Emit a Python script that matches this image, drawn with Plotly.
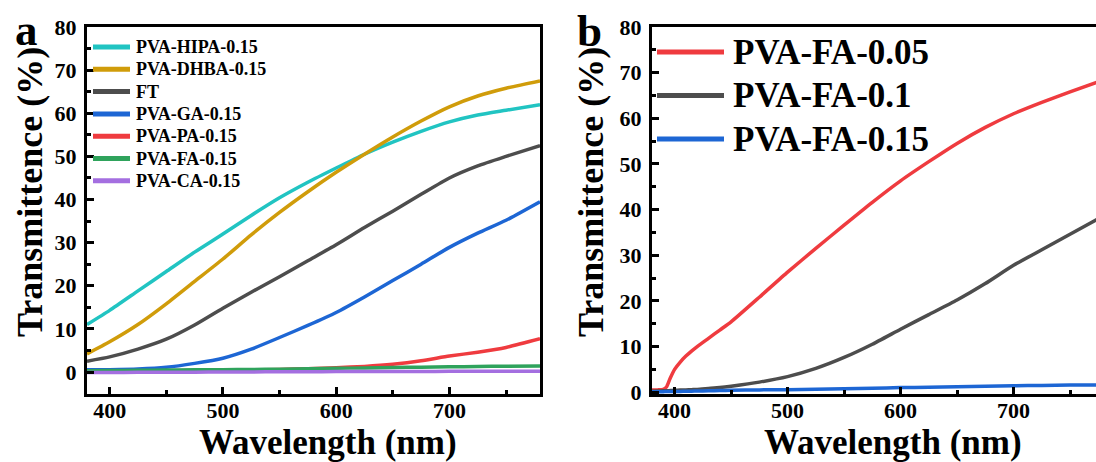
import plotly.graph_objects as go

# ---------------- data ----------------
wl_a = [380, 400, 425, 450, 475, 500, 525, 550, 575, 600, 625, 650, 675, 700, 725, 750, 780]
hipa = [11.0, 14.3, 18.8, 23.3, 27.8, 32.0, 36.3, 40.4, 44.0, 47.3, 50.5, 53.3, 55.8, 58.0, 59.6, 60.7, 62.0]
dhba = [4.2, 7.0, 11.0, 15.8, 21.0, 26.2, 31.8, 37.0, 41.8, 46.3, 50.5, 54.5, 58.2, 61.5, 64.0, 65.8, 67.5]
ft   = [2.5, 3.5, 5.3, 7.6, 10.9, 14.8, 18.5, 22.1, 25.8, 29.5, 33.5, 37.3, 41.2, 45.0, 47.8, 50.0, 52.5]
ga   = [0.5, 0.55, 0.7, 1.1, 2.0, 3.2, 5.3, 8.0, 10.8, 13.8, 17.4, 21.2, 25.0, 28.9, 32.2, 35.2, 39.5]
pa   = [0.2, 0.25, 0.28, 0.3, 0.35, 0.4, 0.5, 0.6, 0.75, 1.0, 1.3, 1.8, 2.6, 3.7, 4.6, 5.7, 7.7]
fa   = [0.3, 0.35, 0.4, 0.45, 0.5, 0.55, 0.6, 0.65, 0.75, 0.85, 0.95, 1.05, 1.12, 1.2, 1.28, 1.34, 1.4]
ca   = [-0.1, -0.1, -0.08, -0.05, -0.03, 0.0, 0.02, 0.05, 0.07, 0.1, 0.11, 0.12, 0.14, 0.15, 0.17, 0.19, 0.2]

wl_b  = [380, 385, 390, 393, 396, 400, 405, 410, 415, 420, 430, 440, 450, 475, 500,
         525, 550, 575, 600, 625, 650, 675, 700, 725, 750, 775]
fa005 = [0.5, 0.5, 0.6, 1.2, 3.0, 5.0, 6.6, 7.9, 9.0, 10.0, 11.8, 13.6, 15.4, 20.8, 26.3,
         31.5, 36.6, 41.6, 46.3, 50.5, 54.5, 58.0, 61.0, 63.5, 65.8, 68.0]
fa01  = [0.2, 0.25, 0.3, 0.3, 0.35, 0.4, 0.45, 0.5, 0.55, 0.6, 0.8, 1.0, 1.3, 2.2, 3.4,
         5.2, 7.6, 10.5, 13.8, 17.0, 20.2, 23.8, 27.8, 31.2, 34.6, 38.0]
fa015 = [0.1, 0.1, 0.12, 0.13, 0.14, 0.15, 0.17, 0.2, 0.22, 0.25, 0.3, 0.35, 0.4, 0.5, 0.55,
         0.65, 0.75, 0.88, 1.0, 1.1, 1.2, 1.3, 1.4, 1.48, 1.55, 1.6]

names_a  = ["PVA-HIPA-0.15", "PVA-DHBA-0.15", "FT", "PVA-GA-0.15", "PVA-PA-0.15", "PVA-FA-0.15", "PVA-CA-0.15"]
values_a = [hipa, dhba, ft, ga, pa, fa, ca]
colors_a = ["#21C4C2", "#D09C0A", "#4D4D4D", "#1D66D4", "#EF3B3F", "#2FA35C", "#A46FE0"]

names_b  = ["PVA-FA-0.05", "PVA-FA-0.1", "PVA-FA-0.15"]
values_b = [fa005, fa01, fa015]
colors_b = ["#EF3B3F", "#4D4D4D", "#1D66D4"]

x_ticks = [400, 500, 600, 700]
x_minor = [450, 550, 650, 750]
y_ticks = [0, 10, 20, 30, 40, 50, 60, 70, 80]

# ---------------- layout constants ----------------
FONT = "Liberation Serif"
W, H = 1096, 462
MT, MB = 27, 68
PH = H - MT - MB


def py(p):
    """pixel row -> paper y"""
    return 1 - (p - MT) / PH


def px(p):
    return p / W


fig = go.Figure()
for name, ys, col in zip(names_a, values_a, colors_a):
    fig.add_trace(go.Scatter(x=wl_a, y=ys, mode="lines", name=name, showlegend=False,
                             line=dict(color=col, width=3.5, shape="spline", smoothing=0.6),
                             xaxis="x", yaxis="y"))
for name, ys, col in zip(names_b, values_b, colors_b):
    fig.add_trace(go.Scatter(x=wl_b, y=ys, mode="lines", name=name, showlegend=False,
                             line=dict(color=col, width=3.5, shape="spline", smoothing=0.5),
                             xaxis="x2", yaxis="y2"))

tickfont = dict(family=FONT, size=22, color="black", weight="bold")
titlefont = dict(family=FONT, size=35, color="black", weight="bold")

common_x = dict(showgrid=False, zeroline=False, showline=True, linecolor="black", linewidth=3,
                ticks="inside", ticklen=7, tickwidth=3, tickcolor="black",
                tickvals=x_ticks, tickfont=tickfont, ticklabelstandoff=-5,
                minor=dict(tickvals=x_minor, ticks="inside", ticklen=4,
                           tickwidth=3, tickcolor="black"))
common_y = dict(showgrid=False, zeroline=False, showline=True, linecolor="black", linewidth=3,
                ticks="inside", ticklen=7, tickwidth=3, tickcolor="black",
                tickvals=y_ticks, tickfont=tickfont, ticklabelstandoff=3,
                minor=dict(dtick=5, ticks="inside", ticklen=4, tickwidth=3, tickcolor="black"))

fig.update_layout(
    width=W, height=H,
    margin=dict(l=0, r=0, t=MT, b=MB, autoexpand=False),
    paper_bgcolor="white", plot_bgcolor="white",
    showlegend=False,
    xaxis=dict(domain=[px(87), px(540)], range=[380, 780], anchor="y", mirror=True, **common_x),
    yaxis=dict(domain=[0, 1], range=[-5.1, 80], anchor="x", mirror=True, **common_y),
    xaxis2=dict(domain=[px(652), 1.0], range=[380, 773], anchor="y2", mirror=True, **common_x),
    yaxis2=dict(domain=[0, 1], range=[-0.4, 80], anchor="x2", mirror=False, **common_y),
)

# axis titles
for xc in (328, 893):
    fig.add_annotation(text="Wavelength (nm)", x=px(xc), y=py(442), xref="paper", yref="paper",
                       xanchor="center", yanchor="middle", showarrow=False, font=titlefont)
for xc in (30, 591):
    fig.add_annotation(text="Transmittence (%)", x=px(xc), y=py(192), xref="paper", yref="paper",
                       xanchor="center", yanchor="middle", textangle=-90, showarrow=False,
                       font=dict(family=FONT, size=36, color="black", weight="bold"))

# panel letters
fig.add_annotation(text="a", x=px(26), y=py(30), xref="paper", yref="paper",
                   xanchor="center", yanchor="middle", showarrow=False,
                   font=dict(family=FONT, size=45, color="black", weight="bold"))
fig.add_annotation(text="b", x=px(589), y=py(31), xref="paper", yref="paper",
                   xanchor="center", yanchor="middle", showarrow=False,
                   font=dict(family=FONT, size=45, color="black", weight="bold"))

# legend keys (panel a)
for i, (name, col) in enumerate(zip(names_a, colors_a)):
    yc = 47 + i * 22.3
    fig.add_shape(type="line", xref="paper", yref="paper", x0=px(93), x1=px(130),
                  y0=py(yc), y1=py(yc), line=dict(color=col, width=5))
    fig.add_annotation(text=name, x=px(134), y=py(yc), xref="paper", yref="paper",
                       xanchor="left", yanchor="middle", showarrow=False,
                       font=dict(family=FONT, size=18, color="black", weight="bold"))
# legend keys (panel b)
for i, (name, col) in enumerate(zip(names_b, colors_b)):
    yc = 52 + i * 43.5
    fig.add_shape(type="line", xref="paper", yref="paper", x0=px(657), x1=px(724),
                  y0=py(yc), y1=py(yc), line=dict(color=col, width=5))
    fig.add_annotation(text=name, x=px(731), y=py(yc), xref="paper", yref="paper",
                       xanchor="left", yanchor="middle", showarrow=False,
                       font=dict(family=FONT, size=35, color="black", weight="bold"))

fig.write_html("out.html", config={"displayModeBar": False},
               post_script="document.body.style.margin='0px';")
